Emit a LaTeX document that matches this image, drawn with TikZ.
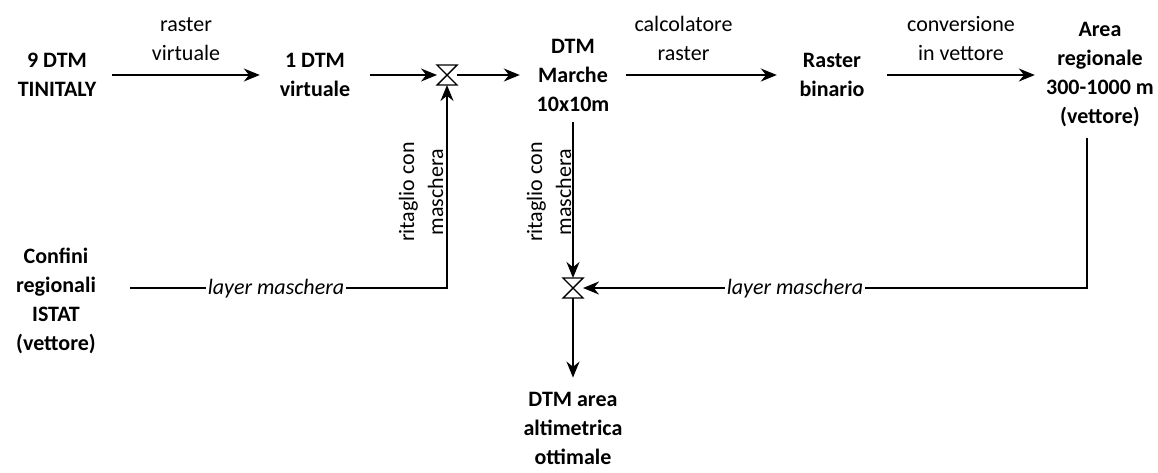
\documentclass[tikz,border=0pt]{standalone}
\usepackage{fontspec}
\setmainfont{Carlito}
\usetikzlibrary{arrows.meta,positioning}

\tikzset{
  block/.style={font=\fontsize{22}{29}\selectfont\bfseries, align=center, minimum width=110pt, inner sep=0pt},
  lbl/.style={font=\fontsize{22}{29}\selectfont, align=center, inner sep=0pt},
  masklbl/.style={lbl, font=\fontsize{22}{29}\selectfont\itshape, fill=white, inner xsep=2pt},
  flow/.style={-{Stealth[length=16pt, width=13pt]}, line width=1.8pt},
  joint/.style={minimum size=20pt, inner sep=0pt, outer sep=0pt},
}

\begin{document}
\begin{tikzpicture}[x=1pt, y=-1pt]
  \useasboundingbox (0,0) rectangle (1158,472);
  % Data blocks
  \node[block] (tin) at (57,75) {9 DTM\\TINITALY};
  \node[block] (vir) at (315,75) {1 DTM\\virtuale};
  \node[block, minimum width=106pt] (mar) at (573,75) {DTM\\Marche\\10x10m};
  \node[block] (bin) at (832,75) {Raster\\binario};
  \node[block, minimum width=130pt] (area) at (1100,75) {Area\\regionale\\300-1000 m\\(vettore)};
  \node[block] (conf) at (56,301) {Confini\\regionali\\ISTAT\\(vettore)};
  \node[block] (ott) at (573,428) {DTM area\\altimetrica\\ottimale};
  % Junctions
  \node[joint] (j1) at (447,75) {};
  \node[joint] (j2) at (573,288) {};
  \draw[line width=1.4pt] (j1.north west) -- (j1.north east) -- (j1.south west) -- (j1.south east) -- cycle;
  \draw[line width=1.4pt] (j2.north west) -- (j2.north east) -- (j2.south west) -- (j2.south east) -- cycle;
  % Arrows
  \draw[flow] (tin) -- (vir) node[midway, above=13pt, lbl] (lrv) {raster\\virtuale};
  \draw[flow] (vir) -- (j1);
  \draw[flow] (j1) -- (mar);
  \draw[flow] (mar) -- (bin) node[midway, above=13pt, xshift=-18pt, lbl] (lcr) {calcolatore\\raster};
  \draw[flow] (bin) -- (area) node[midway, above=13pt, lbl] (lcv) {conversione\\in vettore};
  \draw[flow, shorten <=11pt] (mar) -- (j2);
  \draw[flow, shorten >=14pt] (j2) -- (ott);
  \draw[flow, shorten <=10pt] ([xshift=-13pt]area.south) |- (j2.east);
  \draw[flow] ([shift={(19,-13)}]conf.east) -| (j1.south);
  % Mask labels
  \node[masklbl] (lm1) at (276,289) {layer maschera};
  \node[masklbl] (lm2) at (795,289) {layer maschera};
  \node[lbl, rotate=90] (rc1) at (421,192) {ritaglio con\\maschera};
  \node[lbl, rotate=90] (rc2) at (549,192) {ritaglio con\\maschera};
\end{tikzpicture}
\end{document}
